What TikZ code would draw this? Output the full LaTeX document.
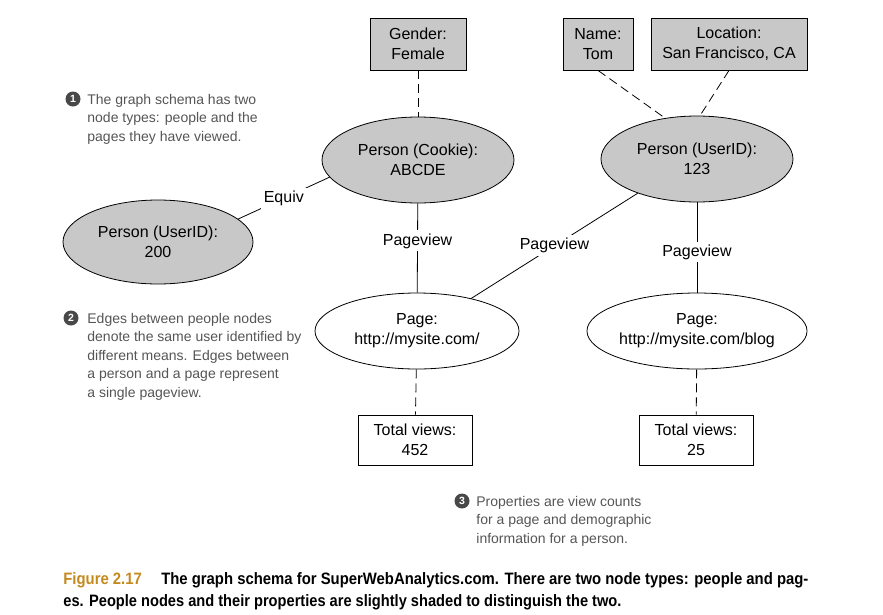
\documentclass[tikz,border=0pt]{standalone}
\usepackage{fontspec}
\setmainfont{Liberation Sans}
\usepackage{graphicx}
\usetikzlibrary{shapes.geometric, positioning}
\definecolor{shade}{RGB}{200,200,200}
\definecolor{note}{RGB}{85,85,85}
\definecolor{capcol}{RGB}{196,138,30}

\begin{document}
\begin{tikzpicture} [x = 1pt, y = -1pt, line width = 0.8pt,
  every node/.style = {font = \fontsize{16}{20}\selectfont, align = center},
  person/.style = {draw, ellipse, fill = shade, minimum width = 192pt, minimum height = 86pt, inner sep = 0pt},
  page/.style = {draw, ellipse, minimum width = 204pt, minimum height = 76pt, inner sep = 0pt},
  prop/.style = {draw, rectangle, minimum height = 52pt, inner sep = 0pt},
  lbl/.style = {fill = white, inner sep = 3pt},
  propline/.style = {dash pattern = on 9pt off 5pt},
  num/.style = {circle, fill = note!85!black, text = white, inner sep = 0pt, minimum size = 15pt, font = \fontsize{10.5}{10.5}\selectfont\bfseries},
  notetext/.style = {text = note, align = left, anchor = base west, inner sep = 0pt, font = \fontsize{14}{18.5}\selectfont}]
\useasboundingbox (0,0) rectangle (883,614);

% properties
\node[prop, fill = shade, minimum width = 96pt] (gender) at (418,44) {Gender:\\Female};
\node[prop, fill = shade, minimum width = 70pt] (name) at (598,44) {Name:\\Tom};
\node[prop, fill = shade, minimum width = 156pt] (loc) at (729,44) {Location:\\San Francisco, CA};
\node[prop, minimum width = 114pt, minimum height = 50pt] (views1) at (415,440) {Total views:\\452};
\node[prop, minimum width = 114pt, minimum height = 50pt] (views2) at (696,440) {Total views:\\25};

% people and pages
\node[person] (cookie) at (418,160) {Person (Cookie):\\ABCDE};
\node[person] (uid) at (697,159) {Person (UserID):\\123};
\node[person, minimum width = 190pt, minimum height = 84pt] (uid200) at (158,242) {Person (UserID):\\200};
\node[page] (home) at (417,331) {Page:\\http://mysite.com/};
\node[page, minimum width = 206pt] (blog) at (697,331) {Page:\\http://mysite.com/blog};

\draw[propline] (gender) -- (cookie);
\draw[propline] (name.south) -- (uid.128);
\draw[propline] (loc.south) -- (uid.86);
\draw (uid200.16) -- node[lbl]{Equiv} (cookie.191);
\draw (cookie) -- node[lbl, pos = 0.42]{Pageview} (home);
\draw (uid.210) -- node[lbl]{Pageview} (home.31);
\draw (uid) -- node[lbl, pos = 0.55]{Pageview} (blog);
\draw[propline] (home) -- (views1);
\draw[propline] (blog) -- (views2);

% notes (anchored at the last line)
\node[num] (n1) at (73,99) {1};
\node[notetext] (note1) at (87,141) {The graph schema has two\\node types: people and the\\pages they have viewed.};
\node[num] (n2) at (71,318) {2};
\node[notetext] (note2) at (87,397) {Edges between people nodes\\denote the same user identified by\\different means. Edges between\\a person and a page represent\\a single pageview.};
\node[num] (n3) at (462,501) {3};
\node[notetext] (note3) at (476,543) {Properties are view counts\\for a page and demographic\\information for a person.};

% caption
\node[anchor = base west, inner sep = 0pt, font = \fontsize{16.5}{20}\selectfont\bfseries] (cap1) at (63,584)
  {\resizebox{745pt}{\height}{\textcolor{capcol}{Figure 2.17}\hspace{1.3em}The graph schema for SuperWebAnalytics.com. There are two node types: people and pag-}};
\node[anchor = base west, inner sep = 0pt, font = \fontsize{16.5}{20}\selectfont\bfseries] (cap2) at (63,606)
  {\resizebox{558pt}{\height}{es. People nodes and their properties are slightly shaded to distinguish the two.}};
\end{tikzpicture}
\end{document}
